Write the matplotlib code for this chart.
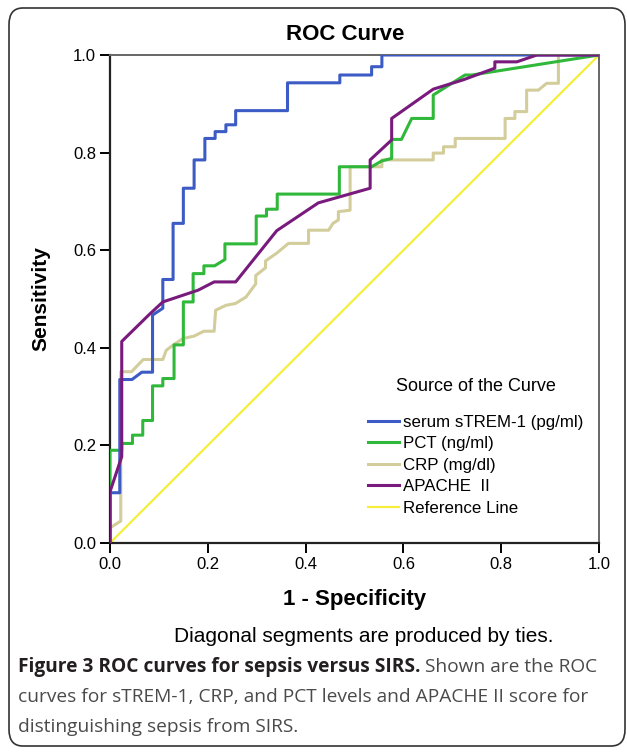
import matplotlib
matplotlib.use("Agg")
import matplotlib.pyplot as plt
from matplotlib.patches import FancyBboxPatch

# ROC curve points (1 - specificity, sensitivity)
strem_x = [0, 0, 0.02, 0.02, 0.045, 0.065, 0.087, 0.087, 0.108, 0.108, 0.129, 0.129,
           0.150, 0.150, 0.172, 0.172, 0.194, 0.194, 0.215, 0.215, 0.237, 0.237,
           0.257, 0.257, 0.363, 0.363, 0.470, 0.470, 0.535, 0.535, 0.556, 0.556, 1.0]
strem_y = [0, 0.103, 0.103, 0.335, 0.335, 0.35, 0.35, 0.467, 0.481, 0.540, 0.540, 0.655,
           0.655, 0.727, 0.727, 0.785, 0.785, 0.829, 0.829, 0.843, 0.843, 0.857,
           0.857, 0.886, 0.886, 0.943, 0.943, 0.959, 0.959, 0.976, 0.976, 1.0, 1.0]

pct_x = [0, 0, 0.024, 0.024, 0.046, 0.046, 0.067, 0.067, 0.087, 0.087, 0.108, 0.108,
         0.131, 0.131, 0.150, 0.150, 0.170, 0.170, 0.192, 0.192, 0.214, 0.235, 0.235,
         0.299, 0.299, 0.320, 0.320, 0.342, 0.342, 0.469, 0.469, 0.535, 0.556, 0.576,
         0.576, 0.596, 0.617, 0.661, 0.661, 0.726, 0.740, 1.0]
pct_y = [0, 0.19, 0.19, 0.204, 0.204, 0.221, 0.221, 0.251, 0.251, 0.322, 0.322, 0.337,
         0.337, 0.406, 0.406, 0.494, 0.494, 0.552, 0.552, 0.568, 0.568, 0.581, 0.613,
         0.613, 0.670, 0.670, 0.684, 0.684, 0.715, 0.715, 0.771, 0.771, 0.783, 0.788,
         0.827, 0.827, 0.870, 0.870, 0.918, 0.959, 0.959, 1.0]

crp_x = [0, 0, 0.022, 0.022, 0.044, 0.068, 0.108, 0.115, 0.131, 0.149, 0.172, 0.192,
         0.213, 0.216, 0.237, 0.257, 0.278, 0.298, 0.298, 0.318, 0.318, 0.341, 0.365,
         0.406, 0.406, 0.447, 0.456, 0.467, 0.467, 0.491, 0.491, 0.556, 0.556, 0.661,
         0.661, 0.682, 0.682, 0.706, 0.706, 0.808, 0.808, 0.828, 0.828, 0.852, 0.852,
         0.876, 0.893, 0.917, 0.917, 1.0]
crp_y = [0, 0.031, 0.045, 0.351, 0.351, 0.376, 0.376, 0.395, 0.407, 0.419, 0.424, 0.434,
         0.434, 0.477, 0.487, 0.491, 0.504, 0.531, 0.548, 0.564, 0.578, 0.594, 0.614,
         0.614, 0.641, 0.641, 0.655, 0.662, 0.679, 0.682, 0.771, 0.771, 0.785, 0.785,
         0.799, 0.799, 0.812, 0.812, 0.829, 0.829, 0.870, 0.870, 0.884, 0.884, 0.928,
         0.928, 0.942, 0.942, 1.0, 1.0]

apache_x = [0, 0, 0.024, 0.024, 0.08, 0.108, 0.18, 0.213, 0.257, 0.293, 0.341, 0.426,
            0.532, 0.532, 0.576, 0.576, 0.661, 0.722, 0.787, 0.787, 0.832, 0.873, 1.0]
apache_y = [0, 0.105, 0.177, 0.413, 0.468, 0.494, 0.518, 0.535, 0.535, 0.580, 0.640, 0.697,
            0.727, 0.785, 0.826, 0.870, 0.930, 0.949, 0.973, 0.986, 0.986, 1.0, 1.0]

ref_x = [0, 1]
ref_y = [0, 1]

labels = ["serum sTREM-1 (pg/ml)", "PCT (ng/ml)", "CRP (mg/dl)", "APACHE  II", "Reference Line"]
colors = ["#3d5bc4", "#30b83a", "#d3cd9c", "#791b7c", "#f4ef3c"]
ticks = [0.0, 0.2, 0.4, 0.6, 0.8, 1.0]

plt.rcParams['font.family'] = ['Liberation Sans', 'DejaVu Sans']

fig = plt.figure(figsize=(6.27, 7.52), dpi=100)

# rounded frame round the whole figure
frame = FancyBboxPatch((9 / 627, 6 / 752), 616 / 627, 738 / 752,
                       boxstyle="round,pad=0,rounding_size=0.022",
                       transform=fig.transFigure, fill=False,
                       edgecolor="#333333", linewidth=1.2)
fig.patches.append(frame)

ax = fig.add_axes([110 / 627, 209 / 752, 489 / 627, 488 / 752])

ax.plot(ref_x, ref_y, color=colors[4], lw=1.6, label=labels[4], zorder=1)
ax.plot(crp_x, crp_y, color=colors[2], lw=2.2, label=labels[2], zorder=2)
ax.plot(pct_x, pct_y, color=colors[1], lw=2.2, label=labels[1], zorder=3)
ax.plot(strem_x, strem_y, color=colors[0], lw=2.2, label=labels[0], zorder=4)
ax.plot(apache_x, apache_y, color=colors[3], lw=2.2, label=labels[3], zorder=5)

ax.set_xlim(0, 1)
ax.set_ylim(0, 1)
ax.set_xticks(ticks)
ax.set_yticks(ticks)
ax.set_xticklabels([f"{t:.1f}" for t in ticks])
ax.set_yticklabels([f"{t:.1f}" for t in ticks])
ax.tick_params(direction="out", length=7, width=1.4, labelsize=12, pad=3,
               top=False, right=False)

for side in ["left", "bottom"]:
    ax.spines[side].set_color("#222222")
    ax.spines[side].set_linewidth(1.6)
for side in ["top", "right"]:
    ax.spines[side].set_color("#666666")
    ax.spines[side].set_linewidth(1.4)

ax.set_xlabel("1 - Specificity", fontsize=16, fontweight="bold", labelpad=12)
ax.set_ylabel("Sensitivity", fontsize=15, fontweight="bold", labelpad=16)
fig.text(345 / 627, 1 - 35 / 752, "ROC Curve", fontsize=16, fontweight="bold",
         ha="center", va="center")

# legend in SPSS order
handles, lbls = ax.get_legend_handles_labels()
order = [lbls.index(l) for l in labels]
leg = ax.legend([handles[i] for i in order], [lbls[i] for i in order],
                title="Source of the Curve", title_fontsize=13, fontsize=12.2,
                frameon=False, loc="lower right", bbox_to_anchor=(1.0, 0.025),
                handlelength=1.85, handletextpad=0.25, labelspacing=0.38)
leg._legend_box.sep = 14

fig.text(364 / 627, 1 - 637 / 752, "Diagonal segments are produced by ties.",
         fontsize=15, ha="center", va="center")

# caption
cap_font = ['Open Sans', 'DejaVu Sans']
cap_size = 13.8
bold_part = fig.text(18 / 627, 1 - 667 / 752, "Figure 3 ROC curves for sepsis versus SIRS.",
                     fontsize=cap_size, fontweight="bold", family=cap_font,
                     color="#231f20", va="center")
fig.canvas.draw()
bb = bold_part.get_window_extent().transformed(fig.transFigure.inverted())
fig.text(bb.x1, 1 - 667 / 752, " Shown are the ROC", fontsize=cap_size, family=cap_font,
         color="#4a4a4a", va="center")
fig.text(18 / 627, 1 - 697 / 752,
         "curves for sTREM-1, CRP, and PCT levels and APACHE II score for",
         fontsize=cap_size, family=cap_font, color="#4a4a4a", va="center")
fig.text(18 / 627, 1 - 727 / 752, "distinguishing sepsis from SIRS.",
         fontsize=cap_size, family=cap_font, color="#4a4a4a", va="center")

fig.savefig("out.png", dpi=100)
